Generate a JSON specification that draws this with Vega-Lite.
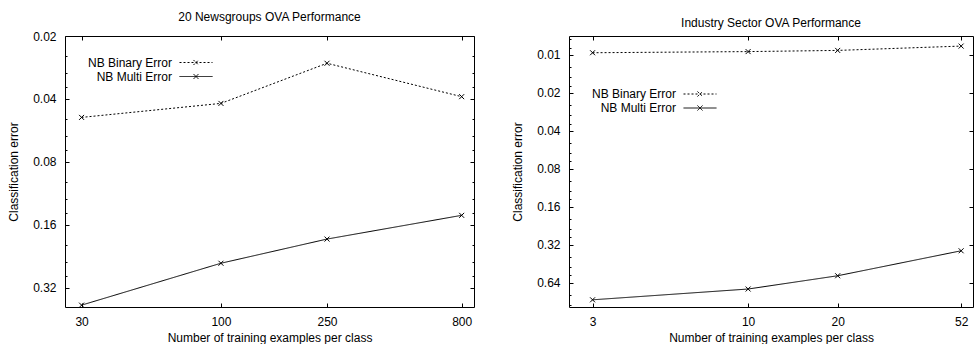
{
  "$schema": "https://vega.github.io/schema/vega-lite/v6.json",
  "background": "white",
  "padding": {"left": 7, "top": 10, "right": 0, "bottom": 0},
  "autosize": {"type": "pad"},
  "bounds": "flush",
  "spacing": 95,
  "config": {
    "font": "Liberation Sans",
    "view": {"stroke": "black", "strokeWidth": 1},
    "axis": {"labelFontSize": 12, "titleFontSize": 12, "titleFontWeight": "normal", "labelColor": "black", "titleColor": "black", "tickColor": "black", "grid": false, "domain": false, "labelFont": "Liberation Sans", "titleFont": "Liberation Sans"},
    "title": {"fontSize": 12, "fontWeight": "normal", "color": "black", "font": "Liberation Sans", "offset": 6},
    "legend": {"orient": "none", "title": null, "labelAlign": "right", "labelOffset": -30.5, "symbolType": "M-2.75,0L2.75,0M-0.42,-0.42L0.42,0.42M-0.42,0.42L0.42,-0.42", "symbolSize": 144, "symbolStrokeColor": "black", "symbolFillColor": "transparent", "symbolStrokeWidth": 1, "labelFontSize": 12, "labelColor": "black", "labelFont": "Liberation Sans", "rowPadding": 1, "padding": 0}
  },
  "datasets": {
    "news": [
      {"n": 30, "error": 0.049, "series": "NB Binary Error"},
      {"n": 100, "error": 0.042, "series": "NB Binary Error"},
      {"n": 250, "error": 0.027, "series": "NB Binary Error"},
      {"n": 800, "error": 0.039, "series": "NB Binary Error"},
      {"n": 30, "error": 0.387, "series": "NB Multi Error"},
      {"n": 100, "error": 0.244, "series": "NB Multi Error"},
      {"n": 250, "error": 0.187, "series": "NB Multi Error"},
      {"n": 800, "error": 0.144, "series": "NB Multi Error"}
    ],
    "industry": [
      {"n": 3, "error": 0.0096, "series": "NB Binary Error"},
      {"n": 10, "error": 0.0094, "series": "NB Binary Error"},
      {"n": 20, "error": 0.0092, "series": "NB Binary Error"},
      {"n": 52, "error": 0.0085, "series": "NB Binary Error"},
      {"n": 3, "error": 0.877, "series": "NB Multi Error"},
      {"n": 10, "error": 0.72, "series": "NB Multi Error"},
      {"n": 20, "error": 0.565, "series": "NB Multi Error"},
      {"n": 52, "error": 0.358, "series": "NB Multi Error"}
    ]
  },
  "hconcat": [
    {
      "width": 409,
      "height": 271,
      "title": {"text": "20 Newsgroups OVA Performance"},
      "data": {"name": "news"},
      "layer": [
        {
          "mark": {"type": "line", "color": "black", "strokeWidth": 1},
          "encoding": {
            "x": {"field": "n", "type": "quantitative", "scale": {"type": "log", "domain": [26, 890], "nice": false},
              "axis": {"orient": "bottom", "values": [30, 100, 250, 800], "format": "d", "title": "Number of training examples per class", "tickSize": -4, "labelPadding": 13, "titlePadding": 5}},
            "y": {"field": "error", "type": "quantitative", "scale": {"type": "log", "domain": [0.02, 0.395], "reverse": true, "nice": false},
              "axis": {"orient": "left", "values": [0.02, 0.04, 0.08, 0.16, 0.32], "format": ".2f", "title": "Classification error", "tickSize": -4, "labelPadding": 13, "titlePadding": 12}},
            "strokeDash": {"field": "series", "type": "nominal", "scale": {"domain": ["NB Binary Error", "NB Multi Error"], "range": [[2, 2], [1, 0]]},
              "legend": {"legendX": 124.5, "legendY": 20}}
          }
        },
        {
          "mark": {"type": "point", "shape": "M-1,-1L1,1M-1,1L1,-1", "size": 25, "color": "black", "filled": false, "strokeWidth": 1, "opacity": 1},
          "encoding": {
            "x": {"field": "n", "type": "quantitative", "axis": {"orient": "top", "values": [30, 100, 250, 800], "labels": false, "title": null, "tickSize": -4}},
            "y": {"field": "error", "type": "quantitative", "axis": {"orient": "right", "values": [0.02, 0.04, 0.08, 0.16, 0.32], "labels": false, "title": null, "tickSize": -4}}
          }
        },
        {
          "mark": {"type": "point", "opacity": 0},
          "encoding": {
            "x": {"field": "n", "type": "quantitative", "axis": null},
            "y": {"field": "error", "type": "quantitative", "axis": {"orient": "left", "values": [0.025, 0.03, 0.035, 0.05, 0.06, 0.07, 0.1, 0.12, 0.14, 0.2, 0.24, 0.28], "labels": false, "title": null, "tickSize": -2}}
          }
        },
        {
          "mark": {"type": "point", "opacity": 0},
          "encoding": {
            "x": {"field": "n", "type": "quantitative", "axis": null},
            "y": {"field": "error", "type": "quantitative", "axis": {"orient": "right", "values": [0.025, 0.03, 0.035, 0.05, 0.06, 0.07, 0.1, 0.12, 0.14, 0.2, 0.24, 0.28], "labels": false, "title": null, "tickSize": -2}}
          }
        }
      ],
      "resolve": {"axis": {"x": "independent", "y": "independent"}}
    },
    {
      "width": 404,
      "height": 271,
      "title": {"text": "Industry Sector OVA Performance"},
      "data": {"name": "industry"},
      "layer": [
        {
          "mark": {"type": "line", "color": "black", "strokeWidth": 1},
          "encoding": {
            "x": {"field": "n", "type": "quantitative", "scale": {"type": "log", "domain": [2.5, 57], "nice": false},
              "axis": {"orient": "bottom", "values": [3, 10, 20, 52], "format": "d", "title": "Number of training examples per class", "tickSize": -4, "labelPadding": 13, "titlePadding": 5}},
            "y": {"field": "error", "type": "quantitative", "scale": {"type": "log", "domain": [0.00707, 1.0], "reverse": true, "nice": false},
              "axis": {"orient": "left", "values": [0.01, 0.02, 0.04, 0.08, 0.16, 0.32, 0.64], "format": ".2f", "title": "Classification error", "tickSize": -4, "labelPadding": 13, "titlePadding": 12}},
            "strokeDash": {"field": "series", "type": "nominal", "scale": {"domain": ["NB Binary Error", "NB Multi Error"], "range": [[2, 2], [1, 0]]},
              "legend": {"legendX": 124.5, "legendY": 51.5}}
          }
        },
        {
          "mark": {"type": "point", "shape": "M-1,-1L1,1M-1,1L1,-1", "size": 25, "color": "black", "filled": false, "strokeWidth": 1, "opacity": 1},
          "encoding": {
            "x": {"field": "n", "type": "quantitative", "axis": {"orient": "top", "values": [3, 10, 20, 52], "labels": false, "title": null, "tickSize": -4}},
            "y": {"field": "error", "type": "quantitative", "axis": {"orient": "right", "values": [0.01, 0.02, 0.04, 0.08, 0.16, 0.32, 0.64], "labels": false, "title": null, "tickSize": -4}}
          }
        },
        {
          "mark": {"type": "point", "opacity": 0},
          "encoding": {
            "x": {"field": "n", "type": "quantitative", "axis": null},
            "y": {"field": "error", "type": "quantitative", "axis": {"orient": "left", "values": [0.0075, 0.00875, 0.0125, 0.015, 0.0175, 0.025, 0.03, 0.035, 0.05, 0.06, 0.07, 0.1, 0.12, 0.14, 0.2, 0.24, 0.28, 0.4, 0.48, 0.56, 0.8, 0.96], "labels": false, "title": null, "tickSize": -2}}
          }
        }
      ],
      "resolve": {"axis": {"x": "independent", "y": "independent"}}
    }
  ],
  "resolve": {"scale": {"strokeDash": "independent"}, "legend": {"strokeDash": "independent"}}
}
